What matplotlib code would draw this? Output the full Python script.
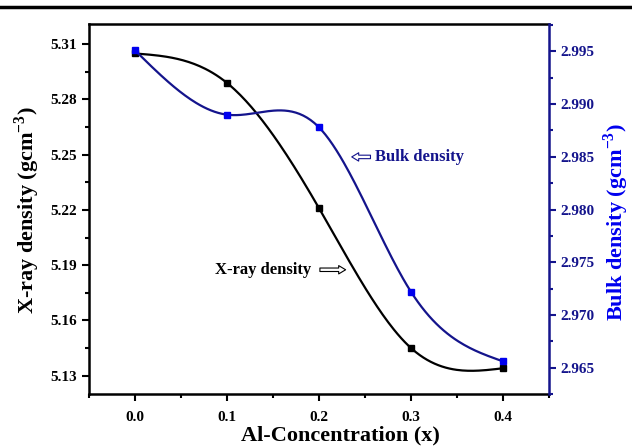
import numpy as np
import matplotlib
matplotlib.use("Agg")
import matplotlib.pyplot as plt
from matplotlib.lines import Line2D
from matplotlib.ticker import MultipleLocator, FormatStrFormatter

# -----------------------------
# Data
# -----------------------------

al_conc = [0.0, 0.1, 0.2, 0.3, 0.4]
xray_density = [5.305, 5.289, 5.221, 5.145, 5.134]
bulk_density = [2.9951, 2.9890, 2.9878, 2.9722, 2.9656]

x_ticks = [0.0, 0.1, 0.2, 0.3, 0.4]
left_ticks = [5.13, 5.16, 5.19, 5.22, 5.25, 5.28, 5.31]
right_ticks = [2.965, 2.970, 2.975, 2.980, 2.985, 2.990, 2.995]


# natural cubic spline, used only to draw the smooth connecting line
def spline_line(x, y, n=200):
    x = np.asarray(x, float)
    y = np.asarray(y, float)
    k = len(x)
    h = np.diff(x)
    A = np.zeros((k, k))
    b = np.zeros(k)
    A[0, 0] = A[-1, -1] = 1
    for i in range(1, k - 1):
        A[i, i - 1] = h[i - 1]
        A[i, i] = 2 * (h[i - 1] + h[i])
        A[i, i + 1] = h[i]
        b[i] = 6 * ((y[i + 1] - y[i]) / h[i] - (y[i] - y[i - 1]) / h[i - 1])
    M = np.linalg.solve(A, b)
    xs = np.linspace(x[0], x[-1], n)
    idx = np.clip(np.searchsorted(x, xs) - 1, 0, k - 2)
    t0 = x[idx + 1] - xs
    t1 = xs - x[idx]
    hi = h[idx]
    ys = (M[idx] * t0 ** 3 / (6 * hi) + M[idx + 1] * t1 ** 3 / (6 * hi)
          + (y[idx] / hi - M[idx] * hi / 6) * t0
          + (y[idx + 1] / hi - M[idx + 1] * hi / 6) * t1)
    return xs, ys


plt.rcParams["font.family"] = "Liberation Serif"
plt.rcParams["font.weight"] = "bold"
plt.rcParams["mathtext.default"] = "bf"

navy = "#14148c"
blue = "#0000ee"

fig = plt.figure(figsize=(6.32, 4.48), dpi=100)
ax = fig.add_axes([0.1408, 0.1205, 0.7278, 0.8259])
ax2 = ax.twinx()

# -----------------------------
# X-ray density (left axis)
# -----------------------------

xs, ys = spline_line(al_conc, xray_density)
ax.plot(xs, ys, color="black", lw=1.6)
ax.plot(al_conc, xray_density, "s", color="black", ms=5)

ax.set_xlim(-0.05, 0.45)
ax.set_ylim(5.12, 5.321)
ax.set_xticks(x_ticks)
ax.set_yticks(left_ticks)
ax.xaxis.set_minor_locator(MultipleLocator(0.05))
ax.yaxis.set_minor_locator(MultipleLocator(0.015))
ax.xaxis.set_major_formatter(FormatStrFormatter("%.1f"))
ax.yaxis.set_major_formatter(FormatStrFormatter("%.2f"))
ax.tick_params(which="major", direction="out", length=5, width=1.5,
               labelsize=11)
ax.tick_params(which="minor", direction="out", length=3, width=1.5)
ax.tick_params(axis="x", pad=7)
for s in ["left", "bottom", "top"]:
    ax.spines[s].set_linewidth(1.8)
ax.spines["right"].set_visible(False)

ax.set_xlabel("Al-Concentration (x)", fontsize=16, fontweight="bold",
              x=0.546, labelpad=1)
ax.set_ylabel("X-ray density (gcm$^{\\mathregular{-3}}$)", fontsize=16,
              fontweight="bold")
ax.yaxis.set_label_coords(-0.103, 0.497)

# -----------------------------
# Bulk density (right axis)
# -----------------------------

xs, ys = spline_line(al_conc, bulk_density)
ax2.plot(xs, ys, color=navy, lw=1.6)
ax2.plot(al_conc, bulk_density, "s", color=blue, ms=5)

ax2.set_ylim(2.9625, 2.9976)
ax2.set_yticks(right_ticks)
ax2.yaxis.set_minor_locator(MultipleLocator(0.0025))
ax2.yaxis.set_major_formatter(FormatStrFormatter("%.3f"))
ax2.tick_params(which="major", direction="out", length=5, width=1.5,
                labelsize=11, color=navy, labelcolor=navy)
ax2.tick_params(which="minor", direction="out", length=3, width=1.5,
                color=navy)
ax2.spines["right"].set_color(navy)
ax2.spines["right"].set_linewidth(1.8)
for s in ["left", "bottom", "top"]:
    ax2.spines[s].set_visible(False)
ax2.set_ylabel("Bulk density (gcm$^{\\mathregular{-3}}$)", fontsize=16,
               fontweight="bold", color=blue)
ax2.yaxis.set_label_coords(1.115, 0.465)

# -----------------------------
# Annotations
# -----------------------------

ax.text(0.087, 5.1875, "X-ray density", fontsize=12, fontweight="bold",
        va="center", ha="left")
ax.annotate("", xy=(0.232, 5.1875), xytext=(0.198, 5.1875),
            arrowprops=dict(arrowstyle="simple,head_width=0.6,tail_width=0.25",
                            fc="white", ec="black", lw=0.8))

ax.text(0.261, 5.2488, "Bulk density", fontsize=12, fontweight="bold",
        va="center", ha="left", color=navy)
ax.annotate("", xy=(0.2326, 5.2488), xytext=(0.259, 5.2488),
            arrowprops=dict(arrowstyle="simple,head_width=0.6,tail_width=0.25",
                            fc="white", ec=navy, lw=0.8))

# top rule line
fig.add_artist(Line2D([0, 1], [0.984, 0.984], transform=fig.transFigure,
                      color="black", lw=2.5))

fig.savefig("out.png", dpi=100)
